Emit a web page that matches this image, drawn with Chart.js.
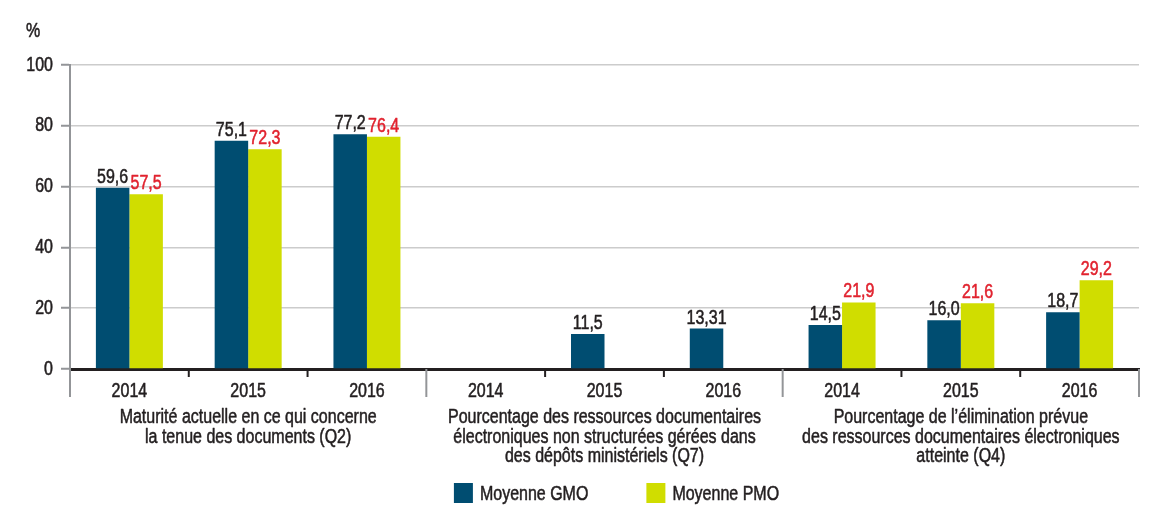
<!DOCTYPE html>
<html><head><meta charset="utf-8">
<script src="https://cdn.jsdelivr.net/npm/chart.js@4.4.1/dist/chart.umd.min.js"></script>
<style>html,body{margin:0;padding:0;background:#fff}#wrap{width:1171px;height:527px;position:relative}</style>
</head><body><div id="wrap"><canvas id="c"></canvas></div>
<script>
// ---- data ----
const years = ['2014','2015','2016','2014','2015','2016','2014','2015','2016'];
const groupLabels = [
  ['Maturité actuelle en ce qui concerne','la tenue des documents (Q2)'],
  ['Pourcentage des ressources documentaires','électroniques non structurées gérées dans','des dépôts ministériels (Q7)'],
  ['Pourcentage de l’élimination prévue','des ressources documentaires électroniques','atteinte (Q4)']
];
const gmoValues = [59.6, 75.1, 77.2, null, 11.5, 13.31, 14.5, 16.0, 18.7];
const pmoValues = [57.5, 72.3, 76.4, null, null, null, 21.9, 21.6, 29.2];
const seriesNames = ['Moyenne GMO', 'Moyenne PMO'];
const yTicks = [0, 20, 40, 60, 80, 100];
const unitLabel = '%';

// ---- style ----
const FONT = "'Liberation Sans', Arial, sans-serif";
const FS = 20;
const NARROW = 0.8; // horizontal condensing of all text (condensed face look)
const TEXT = '#231f20';
const barColors = ['#004d71', '#d0dd00'];
const labelColors = ['#231f20', '#e1232f'];
const AXIS_GREY = '#939598';

Chart.defaults.font.family = FONT;
Chart.defaults.font.size = FS;
Chart.defaults.color = TEXT;

function fmt(v) {
  let s = String(v);
  if (s.indexOf('.') < 0) s += '.0';
  return s.replace('.', ',');
}

function condense(ctx, k) {
  const ft = ctx.fillText.bind(ctx);
  const st = ctx.strokeText.bind(ctx);
  const mt = ctx.measureText.bind(ctx);
  ctx.fillText = function (text, x, y, maxWidth) {
    ctx.save();
    ctx.translate(x, y);
    ctx.scale(k, 1);
    ctx.strokeStyle = ctx.fillStyle;
    ctx.lineWidth = 0.55;
    ctx.lineJoin = 'round';
    if (maxWidth === undefined || maxWidth === null) { ft(text, 0, 0); st(text, 0, 0); }
    else { ft(text, 0, 0, maxWidth / k); st(text, 0, 0, maxWidth / k); }
    ctx.restore();
  };
  ctx.measureText = function (text) {
    const m = mt(text);
    return {
      width: m.width * k,
      actualBoundingBoxAscent: m.actualBoundingBoxAscent,
      actualBoundingBoxDescent: m.actualBoundingBoxDescent,
      actualBoundingBoxLeft: m.actualBoundingBoxLeft * k,
      actualBoundingBoxRight: m.actualBoundingBoxRight * k,
      fontBoundingBoxAscent: m.fontBoundingBoxAscent,
      fontBoundingBoxDescent: m.fontBoundingBoxDescent
    };
  };
}

const decor = {
  id: 'decor',
  afterDatasetsDraw(chart) {
    const ctx = chart.ctx;
    ctx.save();
    ctx.font = FS + 'px ' + FONT;
    ctx.textAlign = 'center';
    ctx.textBaseline = 'alphabetic';
    chart.data.datasets.forEach((ds, di) => {
      const meta = chart.getDatasetMeta(di);
      meta.data.forEach((bar, i) => {
        const v = ds.data[i];
        if (v == null) return;
        ctx.fillStyle = labelColors[di];
        ctx.fillText(fmt(v), bar.x, bar.y - 5);
      });
    });
    ctx.restore();
  },
  afterDraw(chart) {
    const ctx = chart.ctx, a = chart.chartArea, x = chart.scales.x;
    const n = years.length;
    const half = (x.getPixelForValue(1) - x.getPixelForValue(0)) / 2;
    ctx.save();
    for (let i = 0; i <= n; i++) {
      const px = i < n ? x.getPixelForValue(i) - half : x.getPixelForValue(n - 1) + half;
      const major = i % 3 === 0;
      ctx.strokeStyle = major ? AXIS_GREY : TEXT;
      ctx.lineWidth = 2;
      ctx.beginPath();
      ctx.moveTo(px, a.bottom);
      ctx.lineTo(px, a.bottom + (major ? 28 : 8));
      ctx.stroke();
    }
    // unit label
    ctx.font = FS + 'px ' + FONT;
    ctx.fillStyle = TEXT;
    ctx.textAlign = 'left';
    ctx.textBaseline = 'alphabetic';
    ctx.fillText(unitLabel, a.left - 44, a.top - 28);
    // legend
    const boxW = 19, boxH = 20, gapText = 7, gapItem = 58;
    const widths = seriesNames.map(s => boxW + gapText + ctx.measureText(s).width);
    const total = widths[0] + gapItem + widths[1];
    let sx = (a.left + a.right) / 2 + 12 - total / 2;
    const boxTop = a.bottom + 114;
    seriesNames.forEach((s, i) => {
      ctx.fillStyle = barColors[i];
      ctx.fillRect(sx, boxTop, boxW, boxH);
      ctx.fillStyle = TEXT;
      ctx.fillText(s, sx + boxW + gapText, boxTop + 17);
      sx += widths[i] + gapItem;
    });
    ctx.restore();
  }
};

const canvas = document.getElementById('c');
const context = canvas.getContext('2d');
condense(context, NARROW);

new Chart(context, {
  type: 'bar',
  data: {
    labels: years,
    datasets: [
      { label: seriesNames[0], data: gmoValues, backgroundColor: barColors[0], borderWidth: 0,
        categoryPercentage: 0.564, barPercentage: 1.0 },
      { label: seriesNames[1], data: pmoValues, backgroundColor: barColors[1], borderWidth: 0,
        categoryPercentage: 0.564, barPercentage: 1.0 }
    ]
  },
  options: {
    responsive: true,
    maintainAspectRatio: false,
    animation: false,
    layout: { padding: { left: 20, right: 32, top: 65, bottom: 55.5 } },
    plugins: { legend: { display: false }, tooltip: { enabled: false } },
    scales: {
      x: {
        type: 'category', position: 'bottom', weight: 0, offset: true,
        grid: { display: false, drawTicks: false, tickLength: 0 },
        border: { display: true, color: TEXT, width: 3 },
        ticks: { autoSkip: false, maxRotation: 0, minRotation: 0, padding: 12.5, color: TEXT,
                 font: { size: FS, lineHeight: 1 } },
        afterFit(s) { s.height = 32.5; }
      },
      x2: {
        type: 'category', labels: years, position: 'bottom', weight: 1, offset: true,
        grid: { display: false, drawTicks: false, tickLength: 0 },
        border: { display: false },
        ticks: { autoSkip: false, maxRotation: 0, minRotation: 0, padding: 6.4, color: TEXT,
                 font: { size: FS, lineHeight: 0.97 },
                 callback: (v, i) => (i % 3 === 1 ? groupLabels[(i - 1) / 3] : '') },
        afterFit(s) { s.height = 70; }
      },
      y: {
        min: 0, max: 100,
        afterBuildTicks(s) { s.ticks = yTicks.map(v => ({ value: v })); },
        ticks: { padding: 8, color: TEXT, font: { size: FS } },
        grid: { color: '#cccccc', lineWidth: 1.5, tickLength: 9, tickColor: AXIS_GREY, tickWidth: 2 },
        border: { display: true, color: AXIS_GREY, width: 2 },
        afterFit(s) { s.width = 50; }
      }
    }
  },
  plugins: [decor]
});
</script>
</body></html>
